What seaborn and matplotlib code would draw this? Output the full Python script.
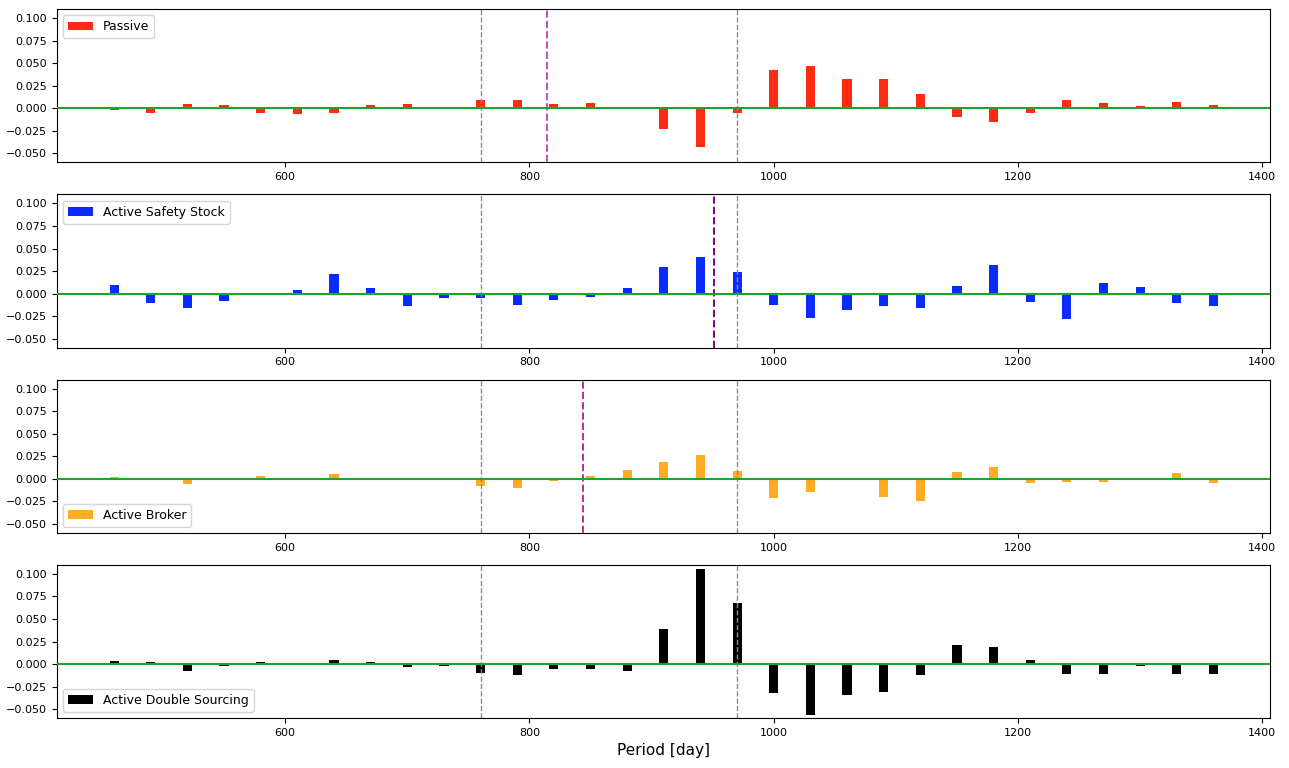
import seaborn as sns
import numpy as np
import pandas as pd
import matplotlib.pyplot as plt

# period (day) for each bar
period = list(range(460, 1361, 30))

passive = [-0.002, -0.005, 0.005, 0.004, -0.005, -0.006, -0.005, 0.004, 0.005, 0.0,
           0.009, 0.009, 0.005, 0.006, 0.0015, -0.023, -0.043, -0.005, 0.042, 0.047,
           0.033, 0.032, 0.016, -0.010, -0.015, -0.005, 0.009, 0.006, 0.0025, 0.007, 0.004]
safety_stock = [0.010, -0.010, -0.016, -0.008, 0.0, 0.0035, 0.022, 0.006, -0.014, -0.0055,
                -0.0055, -0.013, -0.007, -0.0035, 0.0065, 0.029, 0.041, 0.024, -0.0125, -0.027,
                -0.018, -0.014, -0.0165, 0.0088, 0.032, -0.0095, -0.028, 0.012, 0.007, -0.011, -0.014]
broker = [0.0018, -0.0015, -0.006, 0.0, 0.003, 0.0, 0.005, 0.0, -0.0015, 0.0005,
          -0.008, -0.010, -0.002, 0.0035, 0.0095, 0.0188, 0.026, 0.009, -0.021, -0.0143,
          0.0, -0.020, -0.025, 0.0077, 0.0129, -0.005, -0.0035, -0.004, -0.0015, 0.006, -0.005]
double_sourcing = [0.003, 0.002, -0.0075, -0.002, 0.002, 0.0007, 0.005, 0.002, -0.0035, -0.002,
                   -0.010, -0.0125, -0.005, -0.006, -0.008, 0.039, 0.1055, 0.068, -0.0316, -0.057,
                   -0.034, -0.0305, -0.012, 0.021, 0.0188, 0.004, -0.011, -0.011, -0.0026, -0.011, -0.011]

names = ['Passive', 'Active Safety Stock', 'Active Broker', 'Active Double Sourcing']
series = [passive, safety_stock, broker, double_sourcing]
colors = ['#ff2a12', '#0a2aff', '#ffab24', '#000000']
legend_loc = ['upper left', 'upper left', 'lower left', 'lower left']

# disruption window and per-strategy marker line
window = [760, 970]
marker_day = [814, 951, 844, None]
marker_color = ['#c04cc0', '#800080', '#b62ea6', None]

fig, axes = plt.subplots(4, 1, figsize=(12.89, 7.68), dpi=100)
fig.subplots_adjust(left=0.044, right=0.985, top=0.988, bottom=0.065, hspace=0.21)

for i, ax in enumerate(axes):
    df = pd.DataFrame({'period': period, 'value': series[i]})
    sns.barplot(data=df, x='period', y='value', native_scale=True, width=0.25,
                color=colors[i], saturation=1, label=names[i], ax=ax)
    ax.axhline(0, color='#1fa32c', linewidth=1.5, zorder=3)
    for d in window:
        ax.axvline(d, color='#8c8c8c', linestyle='--', linewidth=1)
    if marker_day[i] is not None:
        ax.axvline(marker_day[i], color=marker_color[i], linestyle='--', linewidth=1.4)
    ax.set_xlim(413, 1406)
    ax.set_ylim(-0.06, 0.11)
    ax.set_yticks([-0.05, -0.025, 0, 0.025, 0.05, 0.075, 0.1])
    ax.set_xticks([600, 800, 1000, 1200, 1400])
    ax.tick_params(labelsize=8)
    ax.set_xlabel('')
    ax.set_ylabel('')
    ax.legend(loc=legend_loc[i], fontsize=9)

axes[-1].set_xlabel('Period [day]', fontsize=11)

plt.savefig('out.png')
